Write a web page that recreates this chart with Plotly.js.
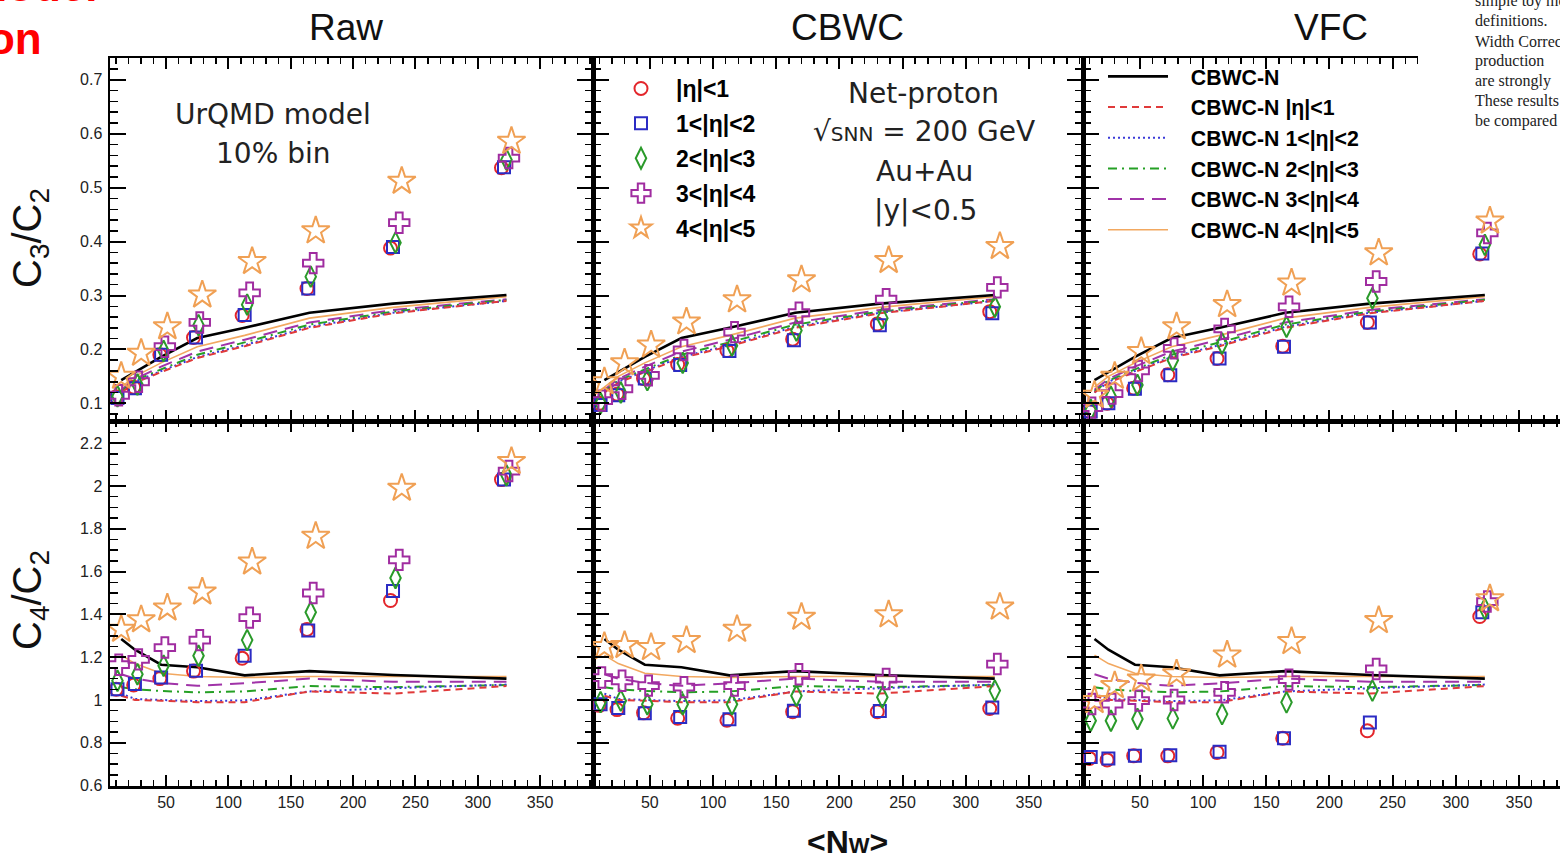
<!DOCTYPE html>
<html><head><meta charset="utf-8">
<script src="https://cdn.plot.ly/plotly-3.0.1.min.js"></script>
<style>html,body{margin:0;padding:0;background:#fff;} #chart{width:1560px;height:859px;}</style>
</head><body><div id="chart"></div>
<script>
// ---------- DATA ----------
// <N_W> positions of each eta-gap series (markers are slightly shifted per series)
const xEta01 = [10, 24, 45, 72, 111, 163, 230, 319];
const xEta12 = [11, 25, 46, 74, 113, 164, 232, 321];
const xEta23 = [11, 27, 48, 76, 115, 166, 234, 323];
const xEta34 = [12, 28, 49, 77, 117, 168, 237, 325];
const xEta45 = [14, 30, 51, 79, 119, 170, 239, 327];
// <N_W> positions of the CBWC-N model curves
const xModel = [14, 25, 46, 75, 113, 165, 232, 323];

const seriesLabels = ['|η|<1', '1<|η|<2', '2<|η|<3', '3<|η|<4', '4<|η|<5'];
const modelLabels = ['CBWC-N', 'CBWC-N |η|<1', 'CBWC-N 1<|η|<2', 'CBWC-N 2<|η|<3', 'CBWC-N 3<|η|<4', 'CBWC-N 4<|η|<5'];
const panelTitles = ['Raw', 'CBWC', 'VFC'];

// C3/C2, rows: |η|<1, 1<|η|<2, 2<|η|<3, 3<|η|<4, 4<|η|<5
const rawC3C2 = [
  [0.112, 0.130, 0.190, 0.222, 0.263, 0.313, 0.388, 0.537],
  [0.110, 0.128, 0.190, 0.222, 0.264, 0.313, 0.390, 0.538],
  [0.113, 0.135, 0.197, 0.245, 0.283, 0.335, 0.398, 0.552],
  [0.115, 0.140, 0.205, 0.250, 0.305, 0.360, 0.435, 0.555],
  [0.150, 0.193, 0.242, 0.301, 0.363, 0.420, 0.512, 0.586]
];
const cbwcC3C2 = [
  [0.100, 0.117, 0.146, 0.172, 0.198, 0.219, 0.247, 0.270],
  [0.097, 0.115, 0.146, 0.171, 0.197, 0.217, 0.245, 0.267],
  [0.100, 0.120, 0.143, 0.175, 0.207, 0.235, 0.258, 0.279],
  [0.105, 0.127, 0.152, 0.199, 0.232, 0.268, 0.293, 0.315],
  [0.140, 0.175, 0.208, 0.251, 0.292, 0.329, 0.365, 0.391]
];
const vfcC3C2 = [
  [0.085, 0.100, 0.128, 0.153, 0.183, 0.206, 0.250, 0.377],
  [0.085, 0.100, 0.127, 0.152, 0.183, 0.205, 0.250, 0.378],
  [0.088, 0.112, 0.134, 0.180, 0.211, 0.242, 0.295, 0.394],
  [0.092, 0.118, 0.160, 0.202, 0.238, 0.279, 0.326, 0.416],
  [0.115, 0.150, 0.196, 0.242, 0.283, 0.323, 0.379, 0.438]
];
// C4/C2
const rawC4C2 = [
  [1.050, 1.070, 1.100, 1.135, 1.195, 1.330, 1.465, 2.030],
  [1.050, 1.075, 1.105, 1.137, 1.207, 1.325, 1.510, 2.030],
  [1.090, 1.120, 1.160, 1.207, 1.280, 1.410, 1.570, 2.050],
  [1.165, 1.190, 1.245, 1.280, 1.385, 1.500, 1.655, 2.070],
  [1.330, 1.375, 1.430, 1.505, 1.645, 1.765, 1.990, 2.115]
];
const cbwcC4C2 = [
  [0.975, 0.955, 0.940, 0.915, 0.905, 0.945, 0.945, 0.960],
  [0.980, 0.962, 0.938, 0.920, 0.910, 0.950, 0.948, 0.965],
  [0.990, 0.997, 0.980, 0.980, 0.980, 1.020, 1.013, 1.044],
  [1.105, 1.090, 1.067, 1.060, 1.067, 1.120, 1.098, 1.168],
  [1.250, 1.255, 1.245, 1.278, 1.330, 1.387, 1.398, 1.434]
];
const vfcC4C2 = [
  [0.727, 0.720, 0.739, 0.739, 0.755, 0.821, 0.856, 1.390],
  [0.734, 0.727, 0.739, 0.742, 0.758, 0.821, 0.895, 1.410],
  [0.903, 0.903, 0.911, 0.914, 0.934, 0.989, 1.044, 1.426],
  [0.981, 0.981, 0.997, 1.000, 1.036, 1.095, 1.145, 1.460],
  [0.997, 1.067, 1.098, 1.122, 1.210, 1.273, 1.371, 1.473]
];
// CBWC-N model curves, rows: all, |η|<1, 1-2, 2-3, 3-4, 4-5
const modelC3C2 = [
  [0.143, 0.158, 0.186, 0.221, 0.240, 0.268, 0.285, 0.301],
  [0.120, 0.138, 0.158, 0.184, 0.206, 0.240, 0.267, 0.290],
  [0.120, 0.140, 0.160, 0.186, 0.208, 0.242, 0.268, 0.290],
  [0.122, 0.142, 0.163, 0.190, 0.213, 0.246, 0.270, 0.292],
  [0.125, 0.145, 0.168, 0.196, 0.218, 0.250, 0.273, 0.293],
  [0.130, 0.150, 0.175, 0.205, 0.226, 0.258, 0.278, 0.298]
];
const modelC4C2 = [
  [1.285, 1.235, 1.165, 1.153, 1.115, 1.135, 1.117, 1.100],
  [1.020, 1.000, 0.997, 0.990, 0.990, 1.040, 1.030, 1.065],
  [1.030, 1.005, 1.000, 0.995, 0.998, 1.040, 1.055, 1.072],
  [1.060, 1.050, 1.042, 1.036, 1.040, 1.065, 1.060, 1.070],
  [1.120, 1.100, 1.080, 1.066, 1.078, 1.100, 1.085, 1.085],
  [1.210, 1.170, 1.125, 1.110, 1.105, 1.110, 1.110, 1.110]
];

// ---------- STYLE ----------
const xSeries = [xEta01, xEta12, xEta23, xEta34, xEta45];
const markerStyle = [
  {symbol: 'circle-open', size: 13, color: '#e3262b'},
  {symbol: 'square-open', size: 12, color: '#2b2bc4'},
  {symbol: 'diamond-tall-open', size: 15, color: '#2a9a2a'},
  {symbol: 'cross-open', size: 17, color: '#a02ca0'},
  {symbol: 'star-open', size: 21, color: '#f0a054'}
];
const lineStyle = [
  {color: '#000000', width: 2.6, dash: 'solid'},
  {color: '#e03a3a', width: 2, dash: '7px,5px'},
  {color: '#3a3ad8', width: 2, dash: '2px,3px'},
  {color: '#25a025', width: 2, dash: '9px,5px,2px,5px'},
  {color: '#a033a8', width: 2, dash: '14px,8px'},
  {color: '#f2a860', width: 1.6, dash: 'solid'}
];

const W = 1560, H = 859;
const px = v => v / W, py = v => 1 - v / H;
const colDom = [[px(110), px(593)], [px(593), px(1083)], [px(1083), 1]];
const rowDom = [[py(421), py(58.3)], [py(786), py(421)]];
const xRanges = [[5, 392.4], [5, 392.8], [4.9, 382.5]];
const yRanges = [[0.0672, 0.740], [0.598, 2.304]];

const topData = [rawC3C2, cbwcC3C2, vfcC3C2];
const botData = [rawC4C2, cbwcC4C2, vfcC4C2];

const traces = [];
const layout = {
  width: W, height: H, margin: {l: 0, r: 0, t: 0, b: 0},
  paper_bgcolor: '#fff', plot_bgcolor: 'rgba(0,0,0,0)',
  showlegend: true, hovermode: false,
  font: {family: 'Liberation Sans, Arial, sans-serif', color: '#000'},
  annotations: [], shapes: []
};

const tickFont = {family: 'Liberation Sans, Arial, sans-serif', size: 16, color: '#222'};

for (let r = 0; r < 2; r++) {
  for (let c = 0; c < 3; c++) {
    const k = r * 3 + c + 1;
    const xn = 'x' + (k === 1 ? '' : k), yn = 'y' + (k === 1 ? '' : k);
    const xKey = 'xaxis' + (k === 1 ? '' : k), yKey = 'yaxis' + (k === 1 ? '' : k);
    layout[xKey] = {
      domain: colDom[c], range: xRanges[c], anchor: yn,
      tick0: 0, dtick: 50, ticks: 'inside', ticklen: 11, tickwidth: 2, tickcolor: '#000',
      minor: {dtick: 10, ticklen: 6, tickwidth: 1.5, ticks: 'inside', tickcolor: '#000'},
      showline: true, linewidth: 2.5, linecolor: '#000', mirror: 'allticks',
      showgrid: false, zeroline: false, showticklabels: r === 1, tickfont: tickFont
    };
    layout[yKey] = {
      domain: rowDom[r], range: yRanges[r], anchor: xn,
      tick0: 0, dtick: r === 0 ? 0.1 : 0.2, ticks: 'inside', ticklen: 16, tickwidth: 2, tickcolor: '#000',
      minor: {dtick: r === 0 ? 0.02 : 0.05, ticklen: 8, tickwidth: 1.5, ticks: 'inside', tickcolor: '#000'},
      showline: true, linewidth: 2.5, linecolor: '#000', mirror: c === 2 ? false : 'allticks',
      showgrid: false, zeroline: false, showticklabels: c === 0, tickfont: tickFont,
      ticklabelstandoff: 2
    };
    const model = r === 0 ? modelC3C2 : modelC4C2;
    for (let m = model.length - 1; m >= 0; m--) {
      const showL = (r === 0 && c === 2);
      traces.push({
        type: 'scatter', mode: 'lines', x: xModel, y: model[m], xaxis: xn, yaxis: yn,
        line: lineStyle[m], name: '\u00a0\u00a0\u00a0' + modelLabels[m], legend: 'legend2',
        legendgroup: 'm' + m, legendrank: m + 1, showlegend: showL, cliponaxis: true
      });
    }
    const pdata = r === 0 ? topData[c] : botData[c];
    for (let s = 0; s < 5; s++) {
      const showL = (r === 0 && c === 1);
      traces.push({
        type: 'scatter', mode: 'markers', x: xSeries[s], y: pdata[s], xaxis: xn, yaxis: yn,
        marker: {symbol: markerStyle[s].symbol, size: markerStyle[s].size, color: markerStyle[s].color,
                 line: {width: 2, color: markerStyle[s].color}},
        name: seriesLabels[s], legend: 'legend', legendgroup: 's' + s, legendrank: s + 1,
        showlegend: showL, cliponaxis: true
      });
    }
  }
}

layout.legend = {
  x: px(606), xanchor: 'left', y: py(67), yanchor: 'top', bgcolor: 'rgba(0,0,0,0)',
  font: {family: 'Liberation Sans, Arial, sans-serif', size: 23, weight: 'bold', color: '#000'},
  itemwidth: 60, traceorder: 'grouped', tracegroupgap: 2, itemsizing: 'trace'
};
layout.legend2 = {
  x: px(1103), xanchor: 'left', y: py(56), yanchor: 'top', bgcolor: 'rgba(0,0,0,0)',
  font: {family: 'Liberation Sans, Arial, sans-serif', size: 21.3, weight: 'bold', color: '#000'},
  itemwidth: 60, traceorder: 'grouped', tracegroupgap: 0
};

function ann(text, x, y, size, opts) {
  layout.annotations.push(Object.assign({
    text: text, x: px(x), y: py(y), xref: 'paper', yref: 'paper', showarrow: false,
    xanchor: 'center', yanchor: 'middle',
    font: {family: 'Liberation Sans, Arial, sans-serif', size: size, color: '#111'}
  }, opts || {}));
}
// panel titles
const titleX = [346, 848, 1331];
panelTitles.forEach((t, i) => ann(t, titleX[i], 28, 37));
// axis titles
ann('C<sub>3</sub>/C<sub>2</sub>', 30, 238, 40, {textangle: -90, font: {family: 'Liberation Sans, Arial, sans-serif', size: 40, color: '#111'}});
ann('C<sub>4</sub>/C<sub>2</sub>', 30, 600, 40, {textangle: -90, font: {family: 'Liberation Sans, Arial, sans-serif', size: 40, color: '#111'}});
ann('&lt;N<span style="font-size:22px">W</span>&gt;', 848, 842, 32, {font: {family: 'Liberation Sans, Arial, sans-serif', size: 32, weight: 'bold', color: '#111'}});
// in-panel texts
const dv = 'DejaVu Sans, Liberation Sans, sans-serif';
const tf = {family: dv, size: 28, color: '#222'};
ann('UrQMD model', 273, 114, 28, {font: tf});
ann('10% bin', 273, 153, 28, {font: tf});
ann('Net-proton', 923, 93, 28, {font: tf});
ann('√<span style="font-size:20px">SNN</span> = 200 GeV', 924, 131, 28, {font: tf});
ann('Au+Au', 924, 171, 28, {font: tf});
ann('|y|<0.5', 925, 210, 28, {font: tf});

// cropped page fragments
layout.shapes.push({type: 'rect', xref: 'paper', yref: 'paper', x0: px(1418), x1: 1, y0: py(135), y1: 1,
  fillcolor: '#fff', line: {width: 0}, layer: 'above'});
const serif = {family: 'Liberation Serif, DejaVu Serif, serif', size: 16, color: '#222'};
const pageLines = ['simple toy model', 'definitions.', 'Width Correction', 'production', 'are strongly', 'These results', 'be compared'];
pageLines.forEach((t, i) => ann(t, 1473, 1 + i * 20, 16, {xanchor: 'left', font: serif}));
ann('tion', 44, 38, 44, {xanchor: 'right', font: {family: 'Liberation Sans, Arial, sans-serif', size: 44, weight: 'bold', color: '#ff0000'}});
ann('model', 100, -14, 44, {xanchor: 'right', font: {family: 'Liberation Sans, Arial, sans-serif', size: 44, weight: 'bold', color: '#ff0000'}});

Plotly.newPlot('chart', traces, layout, {displayModeBar: false, staticPlot: true});
</script>
</body></html>
